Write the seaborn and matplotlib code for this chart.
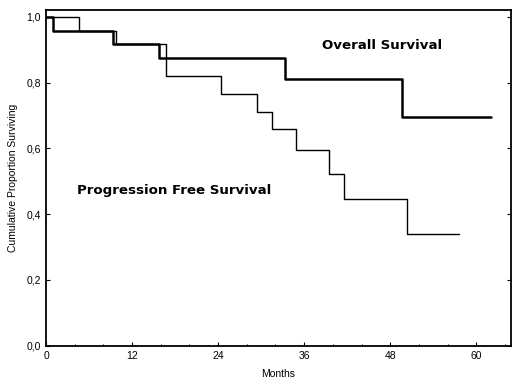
import pandas as pd
import numpy as np
import matplotlib
matplotlib.use("Agg")
import matplotlib.pyplot as plt
from matplotlib.ticker import MultipleLocator, FuncFormatter
import seaborn as sns

# Kaplan-Meier step curves
os_months = [0, 1.0, 9.3, 15.8, 33.3, 49.6, 62.0]
os_surv = [1.0, 0.958, 0.917, 0.875, 0.812, 0.696, 0.696]

pfs_months = [0, 4.6, 9.7, 16.7, 24.4, 29.4, 31.5, 34.9, 39.4, 41.5, 50.4, 57.6]
pfs_surv = [1.0, 0.958, 0.917, 0.82, 0.764, 0.711, 0.658, 0.596, 0.523, 0.446, 0.339, 0.339]

x_ticks = [0, 12, 24, 36, 48, 60]
y_ticks = [0.0, 0.2, 0.4, 0.6, 0.8, 1.0]

sns.set_style("ticks")
plt.rcParams['font.family'] = ['Liberation Sans', 'DejaVu Sans']

os_df = pd.DataFrame({'Months': os_months, 'Survival': os_surv})
pfs_df = pd.DataFrame({'Months': pfs_months, 'Survival': pfs_surv})

fig = plt.figure(figsize=(5.2, 3.9), dpi=100)
ax = fig.add_axes([0.0885, 0.1136, 0.8935, 0.8604])

sns.lineplot(data=os_df, x='Months', y='Survival', ax=ax, color='black',
             linewidth=1.8, drawstyle='steps-post', estimator=None, sort=False)
sns.lineplot(data=pfs_df, x='Months', y='Survival', ax=ax, color='black',
             linewidth=1.0, drawstyle='steps-post', estimator=None, sort=False)

ax.set_xlim(0, 64.8)
ax.set_ylim(0, 1.02)
ax.set_xticks(x_ticks)
ax.set_yticks(y_ticks)
ax.xaxis.set_minor_locator(MultipleLocator(4))
ax.yaxis.set_major_formatter(FuncFormatter(lambda v, p: f"{v:.1f}".replace('.', ',')))
ax.tick_params(which='both', direction='in', right=True, top=False,
               labelsize=7.5, length=3, width=0.8, colors='black')
ax.tick_params(which='minor', length=1.5)

for s in ax.spines.values():
    s.set_linewidth(1.3)
    s.set_color('black')

ax.set_xlabel('Months', fontsize=7.5, labelpad=6, color='black')
ax.set_ylabel('Cumulative Proportion Surviving', fontsize=7.5, labelpad=6, color='black')

ax.text(46.8, 0.914, 'Overall Survival', fontsize=9.6, fontweight='bold',
        ha='center', va='center', color='black', family=['DejaVu Sans'])
ax.text(17.9, 0.473, 'Progression Free Survival', fontsize=9.6, fontweight='bold',
        ha='center', va='center', color='black', family=['DejaVu Sans'])

fig.savefig('out.png', dpi=100)
